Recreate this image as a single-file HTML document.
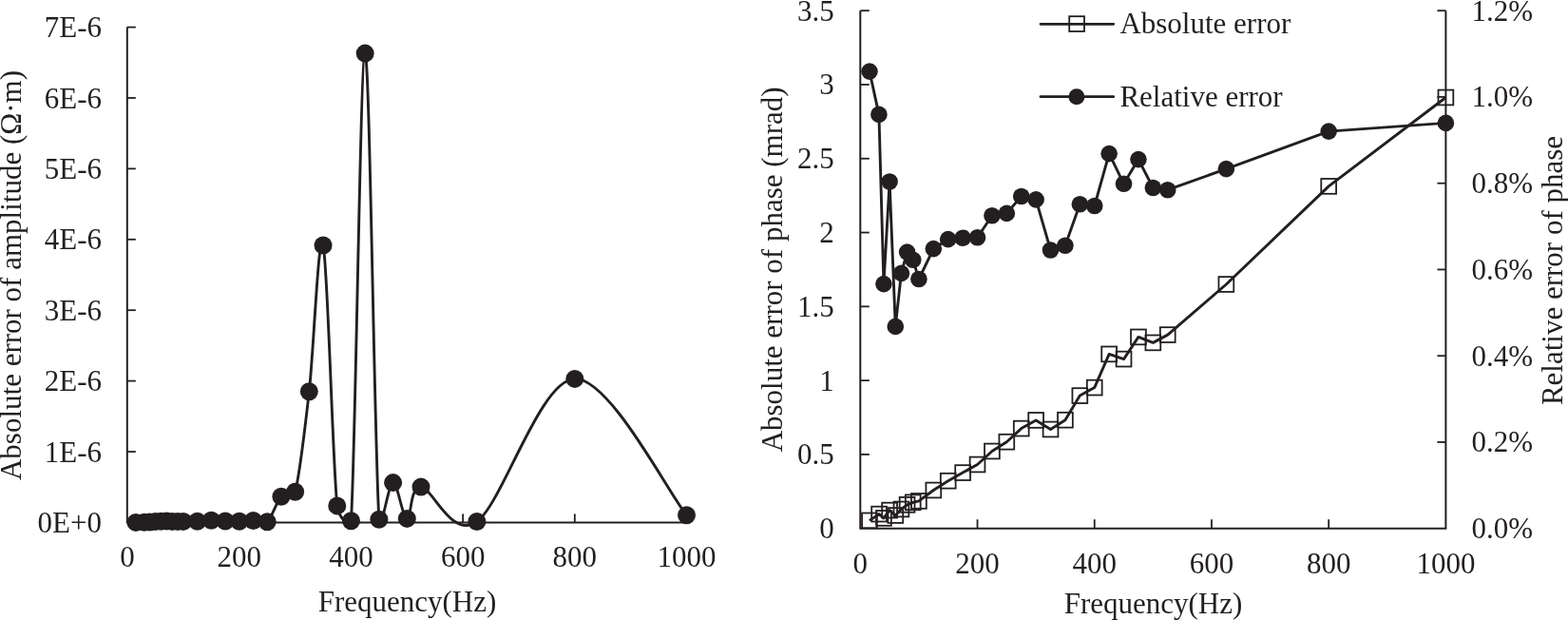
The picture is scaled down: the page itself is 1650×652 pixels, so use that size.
<!DOCTYPE html>
<html><head><meta charset="utf-8"><title>Error plots</title>
<style>
html,body{margin:0;padding:0;background:#fff;}
body{width:1650px;height:652px;overflow:hidden;}
svg{display:block;}
text{font-family:"Liberation Serif", "Times New Roman", serif;font-size:31px;fill:#231f20;}
</style></head><body>
<svg width="1650" height="652" viewBox="0 0 1650 652">
<rect width="1650" height="652" fill="#fff"/>

<g stroke="#231f20" fill="none" stroke-width="2">
<path d="M133.8,28.6 V549.4 H722"/>
<path d="M133.8,475.00 H142.8" stroke-width="1.8"/>
<path d="M133.8,400.60 H142.8" stroke-width="1.8"/>
<path d="M133.8,326.20 H142.8" stroke-width="1.8"/>
<path d="M133.8,251.80 H142.8" stroke-width="1.8"/>
<path d="M133.8,177.40 H142.8" stroke-width="1.8"/>
<path d="M133.8,103.00 H142.8" stroke-width="1.8"/>
<path d="M133.8,28.60 H142.8" stroke-width="1.8"/>
<path d="M251.78,549.4 V540.4" stroke-width="1.8"/>
<path d="M369.46,549.4 V540.4" stroke-width="1.8"/>
<path d="M487.14,549.4 V540.4" stroke-width="1.8"/>
<path d="M604.82,549.4 V540.4" stroke-width="1.8"/>
</g>
<text x="107" y="559.90" text-anchor="end">0E+0</text>
<text x="107" y="485.50" text-anchor="end">1E-6</text>
<text x="107" y="411.10" text-anchor="end">2E-6</text>
<text x="107" y="336.70" text-anchor="end">3E-6</text>
<text x="107" y="262.30" text-anchor="end">4E-6</text>
<text x="107" y="187.90" text-anchor="end">5E-6</text>
<text x="107" y="113.50" text-anchor="end">6E-6</text>
<text x="107" y="39.10" text-anchor="end">7E-6</text>
<text x="134.10" y="596" text-anchor="middle">0</text>
<text x="251.78" y="596" text-anchor="middle">200</text>
<text x="369.46" y="596" text-anchor="middle">400</text>
<text x="487.14" y="596" text-anchor="middle">600</text>
<text x="604.82" y="596" text-anchor="middle">800</text>
<text x="722.50" y="596" text-anchor="middle">1000</text>
<text x="428.5" y="642.7" text-anchor="middle">Frequency(Hz)</text>
<text transform="translate(21.5,289.5) rotate(-90)" text-anchor="middle">Absolute error of amplitude (&#937;&#183;m)</text>
<path d="M142.93,549.40 C144.40,549.37 149.30,549.27 151.75,549.20 C154.20,549.13 155.67,549.10 157.64,549.00 C159.60,548.90 161.56,548.73 163.52,548.60 C165.48,548.47 167.44,548.32 169.40,548.20 C171.37,548.08 173.33,547.87 175.29,547.90 C177.25,547.93 179.21,548.28 181.17,548.40 C183.13,548.52 185.09,548.60 187.06,548.60 C189.02,548.60 190.00,548.44 192.94,548.40 C196.37,548.35 202.75,548.48 207.65,548.30 C212.55,548.12 217.46,547.35 222.36,547.30 C227.26,547.25 232.17,547.85 237.07,548.00 C241.97,548.15 246.88,548.28 251.78,548.20 C256.68,548.12 261.59,547.42 266.49,547.50 C271.39,547.58 276.30,552.90 281.20,548.70 C286.10,544.50 291.01,527.55 295.91,522.30 C300.81,517.05 308.62,524.72 310.62,517.20 C315.52,498.77 320.43,454.90 325.33,411.70 C330.23,368.50 335.14,237.97 340.04,258.00 C344.94,278.03 349.85,483.62 354.75,531.90 C355.84,542.64 368.79,558.47 369.46,547.70 C374.36,468.40 379.27,56.33 384.17,56.10 C389.07,55.87 393.98,471.05 398.88,546.30 C400.23,566.96 408.69,507.75 413.59,507.60 C418.49,507.45 423.40,544.65 428.30,545.40 C433.20,546.15 430.75,511.58 443.01,512.10 C455.27,512.62 474.88,567.45 501.85,548.50 C528.82,529.55 568.05,399.52 604.82,398.40 C641.60,397.28 702.89,517.90 722.50,541.80" stroke="#231f20" stroke-width="2.9" fill="none" stroke-linejoin="round"/>
<circle cx="142.93" cy="549.40" r="9.5" fill="#231f20"/>
<circle cx="151.75" cy="549.20" r="9.5" fill="#231f20"/>
<circle cx="157.64" cy="549.00" r="9.5" fill="#231f20"/>
<circle cx="163.52" cy="548.60" r="9.5" fill="#231f20"/>
<circle cx="169.40" cy="548.20" r="9.5" fill="#231f20"/>
<circle cx="175.29" cy="547.90" r="9.5" fill="#231f20"/>
<circle cx="181.17" cy="548.40" r="9.5" fill="#231f20"/>
<circle cx="187.06" cy="548.60" r="9.5" fill="#231f20"/>
<circle cx="192.94" cy="548.40" r="9.5" fill="#231f20"/>
<circle cx="207.65" cy="548.30" r="9.5" fill="#231f20"/>
<circle cx="222.36" cy="547.30" r="9.5" fill="#231f20"/>
<circle cx="237.07" cy="548.00" r="9.5" fill="#231f20"/>
<circle cx="251.78" cy="548.20" r="9.5" fill="#231f20"/>
<circle cx="266.49" cy="547.50" r="9.5" fill="#231f20"/>
<circle cx="281.20" cy="548.70" r="9.5" fill="#231f20"/>
<circle cx="295.91" cy="522.30" r="9.5" fill="#231f20"/>
<circle cx="310.62" cy="517.20" r="9.5" fill="#231f20"/>
<circle cx="325.33" cy="411.70" r="9.5" fill="#231f20"/>
<circle cx="340.04" cy="258.00" r="9.5" fill="#231f20"/>
<circle cx="354.75" cy="531.90" r="9.5" fill="#231f20"/>
<circle cx="369.46" cy="547.70" r="9.5" fill="#231f20"/>
<circle cx="384.17" cy="56.10" r="9.5" fill="#231f20"/>
<circle cx="398.88" cy="546.30" r="9.5" fill="#231f20"/>
<circle cx="413.59" cy="507.60" r="9.5" fill="#231f20"/>
<circle cx="428.30" cy="545.40" r="9.5" fill="#231f20"/>
<circle cx="443.01" cy="512.10" r="9.5" fill="#231f20"/>
<circle cx="501.85" cy="548.50" r="9.5" fill="#231f20"/>
<circle cx="604.82" cy="398.40" r="9.5" fill="#231f20"/>
<circle cx="722.50" cy="541.80" r="9.5" fill="#231f20"/>
<g stroke="#231f20" fill="none" stroke-width="2">
<path d="M905.3,11.2 V555.7 H1521.4 V11.2"/>
<path d="M905.3,477.91 H914.8" stroke-width="1.8"/>
<path d="M905.3,400.13 H914.8" stroke-width="1.8"/>
<path d="M905.3,322.34 H914.8" stroke-width="1.8"/>
<path d="M905.3,244.56 H914.8" stroke-width="1.8"/>
<path d="M905.3,166.77 H914.8" stroke-width="1.8"/>
<path d="M905.3,88.99 H914.8" stroke-width="1.8"/>
<path d="M905.3,11.20 H914.8" stroke-width="1.8"/>
<path d="M1521.4,464.95 H1512.4" stroke-width="1.8"/>
<path d="M1521.4,374.20 H1512.4" stroke-width="1.8"/>
<path d="M1521.4,283.45 H1512.4" stroke-width="1.8"/>
<path d="M1521.4,192.70 H1512.4" stroke-width="1.8"/>
<path d="M1521.4,101.95 H1512.4" stroke-width="1.8"/>
<path d="M1521.4,11.20 H1512.4" stroke-width="1.8"/>
<path d="M1028.52,555.7 V546.2" stroke-width="1.8"/>
<path d="M1151.74,555.7 V546.2" stroke-width="1.8"/>
<path d="M1274.96,555.7 V546.2" stroke-width="1.8"/>
<path d="M1398.18,555.7 V546.2" stroke-width="1.8"/>
</g>
<text x="877.8" y="566.20" text-anchor="end">0</text>
<text x="877.8" y="488.41" text-anchor="end">0.5</text>
<text x="877.8" y="410.63" text-anchor="end">1</text>
<text x="877.8" y="332.84" text-anchor="end">1.5</text>
<text x="877.8" y="255.06" text-anchor="end">2</text>
<text x="877.8" y="177.27" text-anchor="end">2.5</text>
<text x="877.8" y="99.49" text-anchor="end">3</text>
<text x="877.8" y="21.70" text-anchor="end">3.5</text>
<text x="1548.6" y="566.20">0.0%</text>
<text x="1548.6" y="475.45">0.2%</text>
<text x="1548.6" y="384.70">0.4%</text>
<text x="1548.6" y="293.95">0.6%</text>
<text x="1548.6" y="203.20">0.8%</text>
<text x="1548.6" y="112.45">1.0%</text>
<text x="1548.6" y="21.70">1.2%</text>
<text x="905.30" y="602.8" text-anchor="middle">0</text>
<text x="1028.52" y="602.8" text-anchor="middle">200</text>
<text x="1151.74" y="602.8" text-anchor="middle">400</text>
<text x="1274.96" y="602.8" text-anchor="middle">600</text>
<text x="1398.18" y="602.8" text-anchor="middle">800</text>
<text x="1521.40" y="602.8" text-anchor="middle">1000</text>
<text x="1213.5" y="645.3" text-anchor="middle">Frequency(Hz)</text>
<text transform="translate(822.7,283.4) rotate(-90)" text-anchor="middle">Absolute error of phase (mrad)</text>
<text transform="translate(1644.3,284.5) rotate(-90)" text-anchor="middle">Relative error of phase</text>
<path d="M915.00,547.40 L925.10,540.60 L929.94,544.90 L936.10,536.60 L942.27,542.00 L948.43,535.50 L954.59,530.80 L960.75,528.30 L966.91,526.90 L982.31,515.50 L997.71,505.70 L1013.12,497.10 L1028.52,488.50 L1043.92,474.50 L1059.33,464.70 L1074.73,450.60 L1090.13,441.90 L1105.53,451.50 L1120.93,441.70 L1136.34,416.10 L1151.74,407.60 L1167.14,372.40 L1182.55,377.60 L1197.95,354.40 L1213.35,360.40 L1228.75,352.10 L1290.36,299.00 L1398.18,195.90 L1521.40,102.50" stroke="#231f20" stroke-width="2.9" fill="none" stroke-linejoin="round"/>
<rect x="907.10" y="539.50" width="15.8" height="15.8" fill="none" stroke="#231f20" stroke-width="1.8"/>
<rect x="917.20" y="532.70" width="15.8" height="15.8" fill="none" stroke="#231f20" stroke-width="1.8"/>
<rect x="922.04" y="537.00" width="15.8" height="15.8" fill="none" stroke="#231f20" stroke-width="1.8"/>
<rect x="928.20" y="528.70" width="15.8" height="15.8" fill="none" stroke="#231f20" stroke-width="1.8"/>
<rect x="934.37" y="534.10" width="15.8" height="15.8" fill="none" stroke="#231f20" stroke-width="1.8"/>
<rect x="940.53" y="527.60" width="15.8" height="15.8" fill="none" stroke="#231f20" stroke-width="1.8"/>
<rect x="946.69" y="522.90" width="15.8" height="15.8" fill="none" stroke="#231f20" stroke-width="1.8"/>
<rect x="952.85" y="520.40" width="15.8" height="15.8" fill="none" stroke="#231f20" stroke-width="1.8"/>
<rect x="959.01" y="519.00" width="15.8" height="15.8" fill="none" stroke="#231f20" stroke-width="1.8"/>
<rect x="974.41" y="507.60" width="15.8" height="15.8" fill="none" stroke="#231f20" stroke-width="1.8"/>
<rect x="989.81" y="497.80" width="15.8" height="15.8" fill="none" stroke="#231f20" stroke-width="1.8"/>
<rect x="1005.22" y="489.20" width="15.8" height="15.8" fill="none" stroke="#231f20" stroke-width="1.8"/>
<rect x="1020.62" y="480.60" width="15.8" height="15.8" fill="none" stroke="#231f20" stroke-width="1.8"/>
<rect x="1036.02" y="466.60" width="15.8" height="15.8" fill="none" stroke="#231f20" stroke-width="1.8"/>
<rect x="1051.42" y="456.80" width="15.8" height="15.8" fill="none" stroke="#231f20" stroke-width="1.8"/>
<rect x="1066.83" y="442.70" width="15.8" height="15.8" fill="none" stroke="#231f20" stroke-width="1.8"/>
<rect x="1082.23" y="434.00" width="15.8" height="15.8" fill="none" stroke="#231f20" stroke-width="1.8"/>
<rect x="1097.63" y="443.60" width="15.8" height="15.8" fill="none" stroke="#231f20" stroke-width="1.8"/>
<rect x="1113.03" y="433.80" width="15.8" height="15.8" fill="none" stroke="#231f20" stroke-width="1.8"/>
<rect x="1128.44" y="408.20" width="15.8" height="15.8" fill="none" stroke="#231f20" stroke-width="1.8"/>
<rect x="1143.84" y="399.70" width="15.8" height="15.8" fill="none" stroke="#231f20" stroke-width="1.8"/>
<rect x="1159.24" y="364.50" width="15.8" height="15.8" fill="none" stroke="#231f20" stroke-width="1.8"/>
<rect x="1174.64" y="369.70" width="15.8" height="15.8" fill="none" stroke="#231f20" stroke-width="1.8"/>
<rect x="1190.05" y="346.50" width="15.8" height="15.8" fill="none" stroke="#231f20" stroke-width="1.8"/>
<rect x="1205.45" y="352.50" width="15.8" height="15.8" fill="none" stroke="#231f20" stroke-width="1.8"/>
<rect x="1220.85" y="344.20" width="15.8" height="15.8" fill="none" stroke="#231f20" stroke-width="1.8"/>
<rect x="1282.46" y="291.10" width="15.8" height="15.8" fill="none" stroke="#231f20" stroke-width="1.8"/>
<rect x="1390.28" y="188.00" width="15.8" height="15.8" fill="none" stroke="#231f20" stroke-width="1.8"/>
<rect x="1513.50" y="94.60" width="15.8" height="15.8" fill="none" stroke="#231f20" stroke-width="1.8"/>
<path d="M915.00,75.10 L924.90,120.40 L929.94,298.60 L936.10,191.00 L942.27,343.40 L948.43,287.40 L954.59,265.10 L960.75,273.30 L966.91,293.50 L982.31,261.60 L997.71,251.60 L1013.12,250.20 L1028.52,249.70 L1043.92,226.80 L1059.33,224.40 L1074.73,206.50 L1090.13,209.90 L1105.53,263.00 L1120.93,258.20 L1136.34,214.70 L1151.74,216.50 L1167.14,161.60 L1182.55,193.30 L1197.95,167.60 L1213.35,197.50 L1228.75,199.70 L1290.36,177.60 L1398.18,138.10 L1521.40,129.40" stroke="#231f20" stroke-width="2.9" fill="none" stroke-linejoin="round"/>
<circle cx="915.00" cy="75.10" r="8.8" fill="#231f20"/>
<circle cx="924.90" cy="120.40" r="8.8" fill="#231f20"/>
<circle cx="929.94" cy="298.60" r="8.8" fill="#231f20"/>
<circle cx="936.10" cy="191.00" r="8.8" fill="#231f20"/>
<circle cx="942.27" cy="343.40" r="8.8" fill="#231f20"/>
<circle cx="948.43" cy="287.40" r="8.8" fill="#231f20"/>
<circle cx="954.59" cy="265.10" r="8.8" fill="#231f20"/>
<circle cx="960.75" cy="273.30" r="8.8" fill="#231f20"/>
<circle cx="966.91" cy="293.50" r="8.8" fill="#231f20"/>
<circle cx="982.31" cy="261.60" r="8.8" fill="#231f20"/>
<circle cx="997.71" cy="251.60" r="8.8" fill="#231f20"/>
<circle cx="1013.12" cy="250.20" r="8.8" fill="#231f20"/>
<circle cx="1028.52" cy="249.70" r="8.8" fill="#231f20"/>
<circle cx="1043.92" cy="226.80" r="8.8" fill="#231f20"/>
<circle cx="1059.33" cy="224.40" r="8.8" fill="#231f20"/>
<circle cx="1074.73" cy="206.50" r="8.8" fill="#231f20"/>
<circle cx="1090.13" cy="209.90" r="8.8" fill="#231f20"/>
<circle cx="1105.53" cy="263.00" r="8.8" fill="#231f20"/>
<circle cx="1120.93" cy="258.20" r="8.8" fill="#231f20"/>
<circle cx="1136.34" cy="214.70" r="8.8" fill="#231f20"/>
<circle cx="1151.74" cy="216.50" r="8.8" fill="#231f20"/>
<circle cx="1167.14" cy="161.60" r="8.8" fill="#231f20"/>
<circle cx="1182.55" cy="193.30" r="8.8" fill="#231f20"/>
<circle cx="1197.95" cy="167.60" r="8.8" fill="#231f20"/>
<circle cx="1213.35" cy="197.50" r="8.8" fill="#231f20"/>
<circle cx="1228.75" cy="199.70" r="8.8" fill="#231f20"/>
<circle cx="1290.36" cy="177.60" r="8.8" fill="#231f20"/>
<circle cx="1398.18" cy="138.10" r="8.8" fill="#231f20"/>
<circle cx="1521.40" cy="129.40" r="8.8" fill="#231f20"/>
<path d="M1095,25.3 H1171.7 M1095,101.7 H1171.7" stroke="#231f20" stroke-width="2.8" stroke-linecap="round"/>
<rect x="1125.20" y="17.20" width="15.8" height="15.8" fill="none" stroke="#231f20" stroke-width="1.8"/>
<circle cx="1132.9" cy="101.7" r="8.5" fill="#231f20"/>
<text x="1178.4" y="34.8">Absolute error</text>
<text x="1178.4" y="111.6">Relative error</text>
</svg>
</body></html>
